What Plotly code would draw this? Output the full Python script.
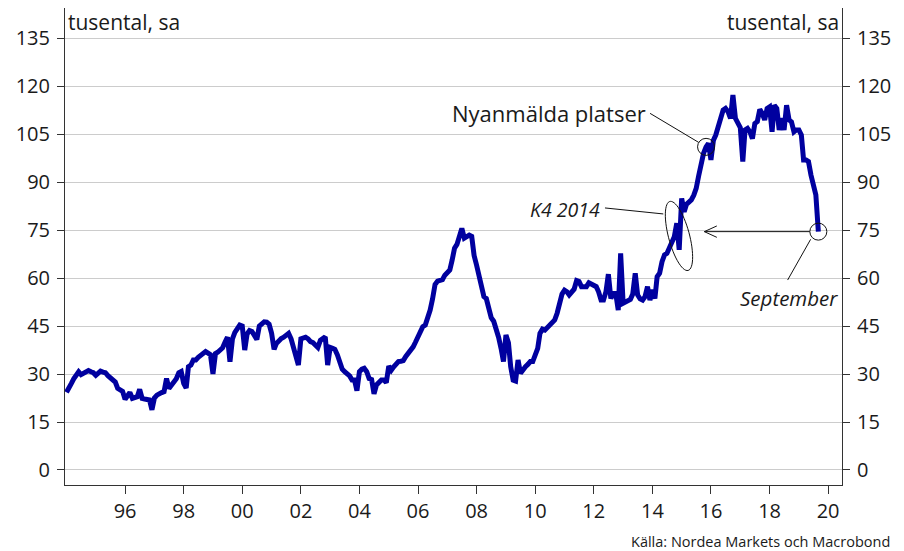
import numpy as np
import pandas as pd
import plotly.graph_objects as go

# Nyanmälda platser, tusental, säsongsjusterat (monthly, Jan 1994 - Sep 2019)
y1994 = [24.3, 25.5, 27.0, 28.5, 30.0, 30.7, 29.8, 30.2, 30.8, 31.1, 30.7, 30.4]
y1995 = [29.6, 30.5, 30.9, 30.6, 30.4, 29.5, 28.8, 28.3, 27.5, 25.5, 25.0, 24.6]
y1996 = [22.1, 23.0, 24.2, 22.4, 22.6, 22.9, 25.2, 22.4, 22.2, 22.1, 21.9, 18.8]
y1997 = [22.5, 23.4, 24.0, 24.2, 24.5, 28.6, 25.5, 26.5, 28.1, 28.5, 30.4, 30.8]
y1998 = [27.1, 25.6, 32.3, 32.8, 34.4, 34.4, 35.2, 35.9, 36.5, 37.0, 36.5, 36.0]
y1999 = [30.0, 36.4, 36.8, 37.7, 38.2, 40.0, 41.5, 33.8, 41.0, 43.0, 44.5, 45.3]
y2000 = [45.0, 37.5, 42.5, 43.6, 43.3, 42.0, 40.8, 45.0, 45.8, 46.3, 46.2, 45.6]
y2001 = [42.7, 37.7, 39.5, 40.5, 41.1, 41.5, 41.9, 42.7, 41.0, 38.5, 36.5, 32.8]
y2002 = [41.0, 41.3, 41.5, 41.0, 40.1, 39.8, 39.0, 38.3, 40.5, 41.3, 41.6, 32.8]
y2003 = [38.3, 38.0, 37.7, 36.0, 33.9, 31.5, 30.7, 30.0, 29.4, 28.1, 28.1, 24.8]
y2004 = [30.7, 31.5, 31.8, 30.7, 28.6, 28.3, 23.8, 26.6, 27.5, 28.1, 28.1, 27.3]
y2005 = [32.5, 31.2, 32.2, 33.0, 33.9, 34.0, 34.2, 35.5, 36.5, 37.0, 38.5, 40.0]
y2006 = [41.7, 44.0, 44.8, 45.3, 47.5, 50.0, 53.5, 58.0, 59.0, 59.2, 59.5, 60.9]
y2007 = [61.5, 62.5, 65.5, 69.3, 70.5, 73.0, 75.5, 72.5, 73.0, 73.4, 73.0, 67.0]
y2008 = [64.0, 60.0, 57.0, 54.2, 53.6, 50.0, 47.6, 46.5, 44.5, 41.5, 38.0, 33.9]
y2009 = [42.2, 39.8, 32.3, 28.1, 27.8, 34.4, 30.2, 31.5, 32.3, 33.0, 33.9, 33.9]
y2010 = [36.0, 38.0, 42.7, 44.0, 43.7, 44.5, 45.3, 46.0, 46.9, 49.0, 52.6, 55.0]
y2011 = [56.2, 55.7, 54.7, 55.5, 56.5, 59.2, 58.9, 57.3, 57.3, 57.3, 58.5, 58.0]
y2012 = [57.4, 57.3, 55.7, 53.1, 53.1, 55.7, 61.2, 53.6, 55.2, 55.2, 50.0, 67.7]
y2013 = [52.1, 52.5, 53.1, 53.3, 55.0, 61.5, 54.7, 53.5, 53.1, 54.2, 57.3, 53.1]
y2014 = [56.3, 53.6, 60.4, 61.5, 65.1, 67.2, 67.7, 69.3, 71.0, 72.9, 77.1, 68.8]
y2015 = [84.9, 80.7, 83.0, 83.5, 84.4, 85.9, 88.0, 92.0, 95.8, 99.0, 101.0, 102.1]
y2016 = [96.9, 103.1, 104.7, 107.8, 110.4, 112.5, 113.0, 112.0, 109.9, 117.2, 109.9, 108.3]
y2017 = [107.0, 96.4, 106.3, 106.8, 105.7, 103.6, 108.3, 108.9, 112.7, 111.5, 109.4, 113.0]
y2018 = [113.5, 105.7, 114.0, 113.0, 106.3, 109.9, 106.3, 114.0, 109.4, 108.8, 105.7, 106.3]
y2019 = [106.3, 104.7, 96.9, 96.9, 96.4, 92.2, 89.5, 86.0, 74.5]

values = (y1994 + y1995 + y1996 + y1997 + y1998 + y1999 + y2000 + y2001 + y2002
          + y2003 + y2004 + y2005 + y2006 + y2007 + y2008 + y2009 + y2010 + y2011
          + y2012 + y2013 + y2014 + y2015 + y2016 + y2017 + y2018 + y2019)
dates = pd.date_range("1994-01-01", periods=len(values), freq="MS")

x_tick_years = list(range(1996, 2021, 2))
x_tick_labels = ["96", "98", "00", "02", "04", "06", "08", "10", "12", "14", "16", "18", "20"]
y_ticks = [0, 15, 30, 45, 60, 75, 90, 105, 120, 135]
unit_label = "tusental, sa"
source = "Källa: Nordea Markets och Macrobond"

FONT = "Open Sans"
TXT = "#1a1a1a"
LINE = "#00009f"

fig = go.Figure()
fig.add_trace(go.Scatter(x=dates, y=values, mode="lines",
                         line=dict(color=LINE, width=5), showlegend=False,
                         hoverinfo="x+y"))
# anchor trace for the right-hand axis
fig.add_trace(go.Scatter(x=[dates[0]], y=[values[0]], yaxis="y2", mode="markers",
                         marker=dict(opacity=0), showlegend=False, hoverinfo="skip"))

yr = [-4.69, 144.4]
axis_common = dict(range=yr, tickvals=y_ticks, ticks="outside", ticklen=7,
                   tickcolor="#333", showline=True, linecolor="#333", linewidth=1,
                   zeroline=False, tickfont=dict(size=20, color=TXT, family=FONT),
                   ticklabelstandoff=3, automargin=False)

fig.update_layout(
    width=904, height=551,
    margin=dict(l=65, r=62, t=8, b=66, autoexpand=False),
    plot_bgcolor="white", paper_bgcolor="white",
    font=dict(family=FONT, color=TXT),
    xaxis=dict(type="date", range=["1993-12-13", "2020-06-22"],
               tickvals=[pd.Timestamp(f"{y}-01-01") for y in x_tick_years],
               ticktext=x_tick_labels,
               ticks="outside", ticklen=8, tickcolor="#333",
               showline=True, linecolor="#333", linewidth=1,
               showgrid=False, zeroline=False, automargin=False,
               tickfont=dict(size=20, color=TXT, family=FONT)),
    yaxis=dict(**axis_common, showgrid=True, gridcolor="#cccccc", gridwidth=1),
    yaxis2=dict(**axis_common, overlaying="y", side="right", showgrid=False),
)

# unit labels
fig.add_annotation(xref="paper", yref="paper", x=0, y=1, xanchor="left", yanchor="middle",
                   xshift=1, yshift=-14, text=unit_label, showarrow=False,
                   font=dict(size=21, color=TXT, family=FONT))
fig.add_annotation(xref="paper", yref="paper", x=1, y=1, xanchor="right", yanchor="middle",
                   xshift=-1, yshift=-14, text=unit_label, showarrow=False,
                   font=dict(size=21, color=TXT, family=FONT))
# source
fig.add_annotation(xref="paper", yref="paper", x=1, y=0, xanchor="right", yanchor="middle",
                   xshift=50, yshift=-56, text=source, showarrow=False,
                   font=dict(size=14.5, color=TXT, family=FONT))

# --- annotation anchors taken from the data ---
nov15_i = list(dates).index(pd.Timestamp("2015-11-01"))
nov14_i = list(dates).index(pd.Timestamp("2014-11-01"))
q4_14 = float(np.mean(values[nov14_i - 1:nov14_i + 2]))
last_i = len(values) - 1

def pshape(xa, ya, path=None, **kw):
    d = dict(xref="x", yref="y", xsizemode="pixel", ysizemode="pixel",
             xanchor=xa, yanchor=ya, line=dict(color="#111", width=1), layer="above")
    if path is not None:
        d.update(type="path", path=path)
    d.update(kw)
    fig.add_shape(**d)

def circle(xa, ya, r=8.5):
    pshape(xa, ya, type="circle", x0=-r, x1=r, y0=-r, y1=r)

# Nyanmälda platser
xa, ya = dates[nov15_i], values[nov15_i]
circle(xa, ya)
pshape(xa, ya, path="M -56,33.5 L -7.3,4.4")
fig.add_annotation(x=xa, y=ya, xanchor="right", yanchor="middle", xshift=-58, yshift=34,
                   text="Nyanmälda platser", showarrow=False,
                   font=dict(size=22, color=TXT, family=FONT))

# K4 2014 ellipse
xa, ya = dates[nov14_i], q4_14
cx, cy, a, b = 2.2, 0.7, 35.7, 10.5
ux, uy = 0.256, -0.966
vx, vy = -uy, ux
tt = np.linspace(0, 2 * np.pi, 60)
px = cx + a * np.cos(tt) * ux + b * np.sin(tt) * vx
py = cy + a * np.cos(tt) * uy + b * np.sin(tt) * vy
ell = "M " + " L ".join(f"{p:.2f},{q:.2f}" for p, q in zip(px, py)) + " Z"
pshape(xa, ya, path=ell)
pshape(xa, ya, path="M -71.8,28.7 L -13.5,22.7")
fig.add_annotation(x=xa, y=ya, xanchor="right", yanchor="middle", xshift=-75, yshift=27,
                   text="<i>K4 2014</i>", showarrow=False,
                   font=dict(size=19.5, color=TXT, family=FONT))

# September + arrow
xa, ya = dates[last_i], values[last_i]
circle(xa, ya)
pshape(xa, ya, path="M -8.5,0 L -114,0 M -101.5,5.7 L -114,0 L -101.5,-5.7")
pshape(xa, ya, path="M -30.7,-48.4 L -7.7,-7.7")
fig.add_annotation(x=xa, y=ya, xanchor="center", yanchor="middle", xshift=-29, yshift=-66,
                   text="<i>September</i>", showarrow=False,
                   font=dict(size=20.5, color=TXT, family=FONT))

fig.write_html("out.html", config={"displayModeBar": False},
               post_script="document.body.style.margin='0';document.body.style.overflow='hidden';")
